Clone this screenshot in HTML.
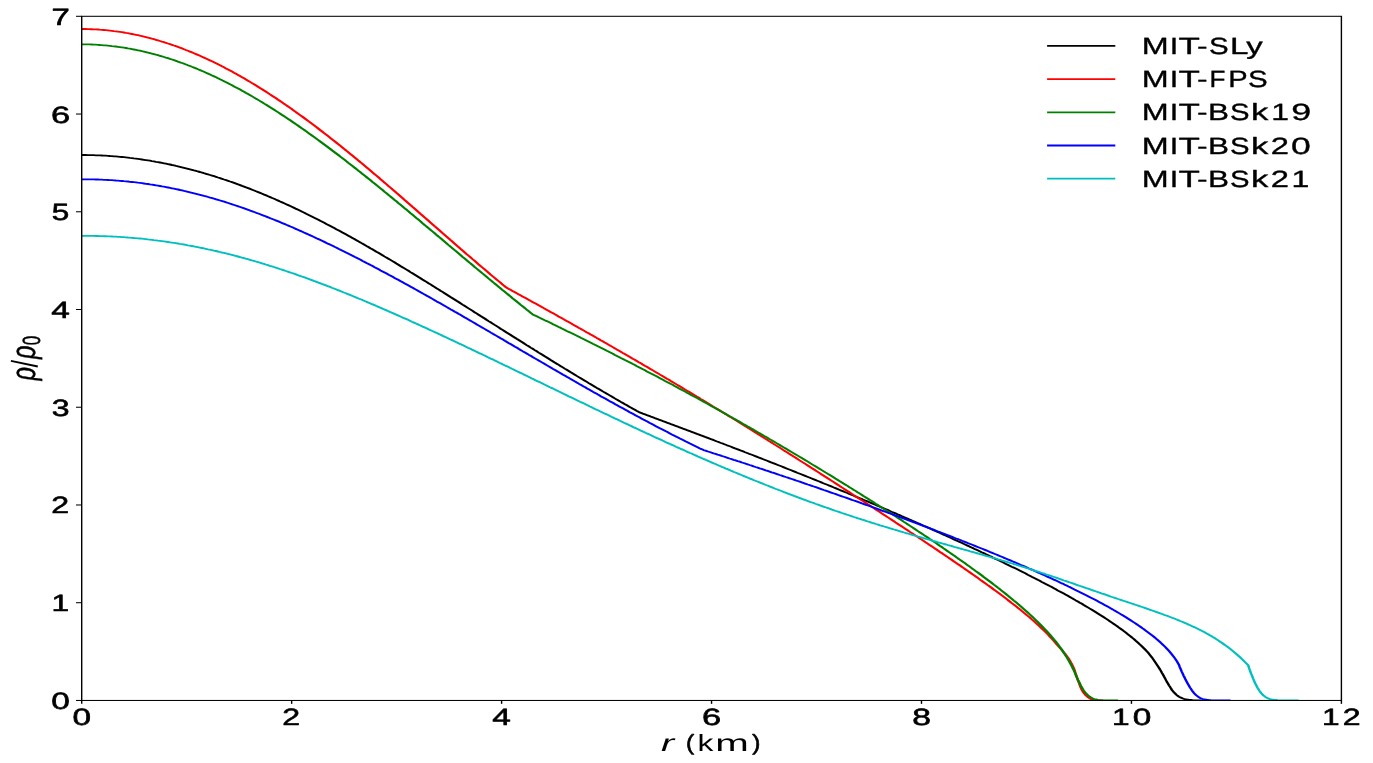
<!DOCTYPE html>
<html><head><meta charset="utf-8"><title>density profile</title>
<style>html,body{margin:0;padding:0;background:#fff;}svg{display:block;will-change:transform;}text{font-family:"Liberation Sans",sans-serif;fill:#000;text-rendering:geometricPrecision;}</style></head><body>
<svg width="1373" height="763" viewBox="0 0 1373 763">
<rect width="1373" height="763" fill="#fff"/>
<defs><clipPath id="ax"><rect x="60.52" y="16.30" width="933.11" height="684.75"/></clipPath></defs>
<g transform="scale(1.350,1)" fill="none">
<g clip-path="url(#ax)" stroke-width="1.85" stroke-linejoin="round" stroke-linecap="butt">
<polyline stroke="#000000" points="60.6,155.0 62.1,155.0 63.6,155.0 65.0,155.1 66.5,155.1 68.0,155.1 69.5,155.2 71.0,155.3 72.5,155.3 74.0,155.4 75.4,155.5 76.9,155.6 78.4,155.7 79.9,155.8 81.4,156.0 82.9,156.1 84.3,156.3 85.8,156.4 87.3,156.6 88.8,156.8 90.3,157.0 91.8,157.2 93.2,157.4 94.7,157.6 96.2,157.9 97.7,158.1 99.2,158.4 100.7,158.6 102.2,158.9 103.6,159.2 105.1,159.5 106.6,159.8 108.1,160.1 109.6,160.4 111.1,160.7 112.5,161.1 114.0,161.4 115.5,161.8 117.0,162.1 118.5,162.5 120.0,162.9 121.5,163.3 122.9,163.7 124.4,164.1 125.9,164.5 127.4,165.0 128.9,165.4 130.4,165.9 131.8,166.3 133.3,166.8 134.8,167.3 136.3,167.8 137.8,168.3 139.3,168.8 140.8,169.3 142.2,169.8 143.7,170.4 145.2,170.9 146.7,171.5 148.2,172.0 149.7,172.6 151.1,173.2 152.6,173.8 154.1,174.4 155.6,175.0 157.1,175.6 158.6,176.2 160.0,176.8 161.5,177.5 163.0,178.1 164.5,178.8 166.0,179.5 167.5,180.1 169.0,180.8 170.4,181.5 171.9,182.2 173.4,182.9 174.9,183.6 176.4,184.4 177.9,185.1 179.3,185.9 180.8,186.6 182.3,187.4 183.8,188.1 185.3,188.9 186.8,189.7 188.3,190.5 189.7,191.3 191.2,192.1 192.7,192.9 194.2,193.7 195.7,194.6 197.2,195.4 198.6,196.3 200.1,197.1 201.6,198.0 203.1,198.8 204.6,199.7 206.1,200.6 207.5,201.5 209.0,202.4 210.5,203.3 212.0,204.2 213.5,205.1 215.0,206.0 216.5,207.0 217.9,207.9 219.4,208.9 220.9,209.8 222.4,210.8 223.9,211.8 225.4,212.7 226.8,213.7 228.3,214.7 229.8,215.7 231.3,216.7 232.8,217.7 234.3,218.7 235.8,219.7 237.2,220.8 238.7,221.8 240.2,222.8 241.7,223.9 243.2,224.9 244.7,226.0 246.1,227.0 247.6,228.1 249.1,229.2 250.6,230.2 252.1,231.3 253.6,232.4 255.1,233.5 256.5,234.6 258.0,235.7 259.5,236.8 261.0,237.9 262.5,239.0 264.0,240.2 265.4,241.3 266.9,242.4 268.4,243.6 269.9,244.7 271.4,245.9 272.9,247.0 274.3,248.2 275.8,249.3 277.3,250.5 278.8,251.7 280.3,252.8 281.8,254.0 283.3,255.2 284.7,256.4 286.2,257.6 287.7,258.7 289.2,259.9 290.7,261.1 292.2,262.3 293.6,263.5 295.1,264.7 296.6,266.0 298.1,267.2 299.6,268.4 301.1,269.6 302.6,270.8 304.0,272.1 305.5,273.3 307.0,274.5 308.5,275.7 310.0,277.0 311.5,278.2 312.9,279.5 314.4,280.7 315.9,281.9 317.4,283.2 318.9,284.4 320.4,285.7 321.8,286.9 323.3,288.2 324.8,289.4 326.3,290.7 327.8,291.9 329.3,293.2 330.8,294.5 332.2,295.7 333.7,297.0 335.2,298.2 336.7,299.5 338.2,300.8 339.7,302.0 341.1,303.3 342.6,304.6 344.1,305.8 345.6,307.1 347.1,308.4 348.6,309.6 350.1,310.9 351.5,312.2 353.0,313.4 354.5,314.7 356.0,316.0 357.5,317.2 359.0,318.5 360.4,319.8 361.9,321.1 363.4,322.3 364.9,323.6 366.4,324.9 367.9,326.1 369.4,327.4 370.8,328.7 372.3,329.9 373.8,331.2 375.3,332.5 376.8,333.7 378.3,335.0 379.7,336.2 381.2,337.5 382.7,338.8 384.2,340.0 385.7,341.3 387.2,342.5 388.6,343.8 390.1,345.1 391.6,346.3 393.1,347.6 394.6,348.8 396.1,350.1 397.6,351.3 399.0,352.6 400.5,353.8 402.0,355.0 403.5,356.3 405.0,357.5 406.5,358.8 407.9,360.0 409.4,361.2 410.9,362.5 412.4,363.7 413.9,364.9 415.4,366.2 416.9,367.4 418.3,368.6 419.8,369.8 421.3,371.0 422.8,372.3 424.3,373.5 425.8,374.7 427.2,375.9 428.7,377.1 430.2,378.3 431.7,379.5 433.2,380.7 434.7,381.9 436.1,383.1 437.6,384.3 439.1,385.5 440.6,386.7 442.1,387.9 443.6,389.0 445.1,390.2 446.5,391.4 448.0,392.6 449.5,393.7 451.0,394.9 452.5,396.1 454.0,397.2 455.4,398.4 456.9,399.6 458.4,400.7 459.9,401.9 461.4,403.0 462.9,404.2 464.4,405.3 465.8,406.4 467.3,407.6 468.8,408.7 470.3,409.8 471.8,411.0 473.3,412.1 474.7,412.8 476.2,413.6 477.7,414.3 479.2,415.1 480.7,415.8 482.2,416.6 483.7,417.3 485.1,418.1 486.6,418.8 488.1,419.6 489.6,420.3 491.1,421.1 492.6,421.8 494.0,422.6 495.5,423.3 497.0,424.1 498.5,424.8 500.0,425.6 501.5,426.3 503.0,427.1 504.4,427.8 505.9,428.6 507.4,429.3 508.9,430.1 510.4,430.8 511.9,431.6 513.3,432.3 514.8,433.1 516.3,433.9 517.8,434.6 519.3,435.4 520.8,436.1 522.3,436.9 523.7,437.6 525.2,438.4 526.7,439.2 528.2,439.9 529.7,440.7 531.2,441.5 532.6,442.2 534.1,443.0 535.6,443.7 537.1,444.5 538.6,445.3 540.1,446.0 541.6,446.8 543.0,447.6 544.5,448.4 546.0,449.1 547.5,449.9 549.0,450.7 550.5,451.4 551.9,452.2 553.4,453.0 554.9,453.8 556.4,454.5 557.9,455.3 559.4,456.1 560.9,456.9 562.3,457.7 563.8,458.4 565.3,459.2 566.8,460.0 568.3,460.8 569.8,461.6 571.2,462.4 572.7,463.1 574.2,463.9 575.7,464.7 577.2,465.5 578.7,466.3 580.2,467.1 581.6,467.9 583.1,468.7 584.6,469.5 586.1,470.3 587.6,471.1 589.1,471.9 590.5,472.7 592.0,473.5 593.5,474.3 595.0,475.1 596.5,475.9 598.0,476.7 599.5,477.5 600.9,478.3 602.4,479.1 603.9,479.9 605.4,480.7 606.9,481.5 608.4,482.4 609.8,483.2 611.3,484.0 612.8,484.8 614.3,485.6 615.8,486.4 617.3,487.3 618.8,488.1 620.2,488.9 621.7,489.7 623.2,490.6 624.7,491.4 626.2,492.2 627.7,493.0 629.1,493.9 630.6,494.7 632.1,495.5 633.6,496.4 635.1,497.2 636.6,498.1 638.1,498.9 639.5,499.7 641.0,500.6 642.5,501.4 644.0,502.3 645.5,503.1 647.0,504.0 648.4,504.8 649.9,505.7 651.4,506.5 652.9,507.4 654.4,508.2 655.9,509.1 657.4,509.9 658.8,510.8 660.3,511.7 661.8,512.5 663.3,513.4 664.8,514.3 666.3,515.1 667.7,516.0 669.2,516.9 670.7,517.7 672.2,518.6 673.7,519.5 675.2,520.4 676.7,521.2 678.1,522.1 679.6,523.0 681.1,523.9 682.6,524.8 684.1,525.7 685.6,526.5 687.0,527.4 688.5,528.3 690.0,529.2 691.5,530.1 693.0,531.0 694.5,531.9 696.0,532.8 697.4,533.7 698.9,534.6 700.4,535.5 701.9,536.4 703.4,537.3 704.9,538.3 706.3,539.2 707.8,540.1 709.3,541.0 710.8,541.9 712.3,542.8 713.8,543.8 715.3,544.7 716.7,545.6 718.2,546.6 719.7,547.5 721.2,548.4 722.7,549.4 724.2,550.3 725.6,551.2 727.1,552.2 728.6,553.1 730.1,554.1 731.6,555.0 733.1,556.0 734.6,556.9 736.0,557.9 737.5,558.9 739.0,559.8 740.5,560.8 742.0,561.8 743.5,562.7 744.9,563.7 746.4,564.7 747.9,565.7 749.4,566.7 750.9,567.6 752.4,568.6 753.9,569.6 755.3,570.6 756.8,571.6 758.3,572.6 759.8,573.6 761.3,574.7 762.8,575.7 764.2,576.7 765.7,577.7 767.2,578.7 768.7,579.8 770.2,580.8 771.7,581.9 773.2,582.9 774.6,583.9 776.1,585.0 777.6,586.1 779.1,587.1 780.6,588.2 782.1,589.3 783.5,590.4 785.0,591.4 786.5,592.5 788.0,593.6 789.5,594.7 791.0,595.8 792.5,597.0 793.9,598.1 795.4,599.2 796.9,600.4 798.4,601.5 799.9,602.7 801.4,603.8 802.8,605.0 804.3,606.2 805.8,607.4 807.3,608.6 808.8,609.8 810.3,611.0 811.8,612.3 813.2,613.5 814.7,614.8 816.2,616.0 817.7,617.3 819.2,618.6 820.7,619.9 822.1,621.3 823.6,622.6 825.1,624.0 826.6,625.4 828.1,626.8 829.6,628.3 831.1,629.7 832.5,631.2 834.0,632.7 835.5,634.3 837.0,635.9 838.5,637.5 840.0,639.2 841.4,640.9 842.9,642.6 844.4,644.5 845.9,646.4 847.4,648.4 848.9,650.4 850.4,652.6 851.8,654.9 853.3,657.4 854.8,660.3 856.3,663.3 857.8,666.3 859.3,669.5 860.0,671.1 860.7,672.8 861.5,674.6 862.2,676.4 863.0,678.3 863.7,680.2 864.4,682.0 865.2,683.6 865.9,685.3 866.7,686.9 867.4,688.5 868.1,690.0 868.9,691.3 869.6,692.4 870.4,693.4 871.1,694.4 871.9,695.3 872.6,696.0 873.3,696.7 874.1,697.2 874.8,697.7 875.6,698.1 876.3,698.5 877.0,698.8 877.8,699.1 878.5,699.3 879.3,699.5 880.0,699.6 880.7,699.8 881.5,699.9 882.2,700.0 883.0,700.1 883.7,700.3 884.4,700.4 885.2,700.4 885.9,700.5 886.7,700.5 887.4,700.5 888.1,700.5 888.9,700.5 889.6,700.5"/>
<polyline stroke="#ff0000" points="60.6,29.0 62.1,29.0 63.6,29.0 65.0,29.1 66.5,29.2 68.0,29.2 69.5,29.3 71.0,29.4 72.5,29.5 73.9,29.7 75.4,29.8 76.9,30.0 78.4,30.2 79.9,30.4 81.4,30.6 82.8,30.8 84.3,31.1 85.8,31.3 87.3,31.6 88.8,31.9 90.3,32.2 91.7,32.5 93.2,32.9 94.7,33.2 96.2,33.6 97.7,34.0 99.2,34.4 100.6,34.8 102.1,35.2 103.6,35.7 105.1,36.1 106.6,36.6 108.1,37.1 109.6,37.6 111.0,38.1 112.5,38.7 114.0,39.2 115.5,39.8 117.0,40.4 118.5,41.0 119.9,41.6 121.4,42.2 122.9,42.8 124.4,43.5 125.9,44.1 127.4,44.8 128.8,45.5 130.3,46.2 131.8,46.9 133.3,47.7 134.8,48.4 136.3,49.2 137.7,50.0 139.2,50.8 140.7,51.6 142.2,52.4 143.7,53.2 145.2,54.1 146.6,54.9 148.1,55.8 149.6,56.7 151.1,57.6 152.6,58.5 154.1,59.5 155.5,60.4 157.0,61.3 158.5,62.3 160.0,63.3 161.5,64.3 163.0,65.3 164.4,66.3 165.9,67.3 167.4,68.4 168.9,69.4 170.4,70.5 171.9,71.6 173.3,72.7 174.8,73.8 176.3,74.9 177.8,76.0 179.3,77.2 180.8,78.3 182.2,79.5 183.7,80.7 185.2,81.9 186.7,83.1 188.2,84.3 189.7,85.5 191.1,86.7 192.6,88.0 194.1,89.2 195.6,90.5 197.1,91.8 198.6,93.1 200.0,94.4 201.5,95.7 203.0,97.0 204.5,98.3 206.0,99.7 207.5,101.0 209.0,102.4 210.4,103.8 211.9,105.1 213.4,106.5 214.9,107.9 216.4,109.3 217.9,110.8 219.3,112.2 220.8,113.6 222.3,115.1 223.8,116.5 225.3,118.0 226.8,119.5 228.2,120.9 229.7,122.4 231.2,123.9 232.7,125.4 234.2,126.9 235.7,128.5 237.1,130.0 238.6,131.5 240.1,133.1 241.6,134.6 243.1,136.2 244.6,137.8 246.0,139.3 247.5,140.9 249.0,142.5 250.5,144.1 252.0,145.7 253.5,147.3 254.9,148.9 256.4,150.5 257.9,152.2 259.4,153.8 260.9,155.4 262.4,157.1 263.8,158.7 265.3,160.4 266.8,162.0 268.3,163.7 269.8,165.4 271.3,167.1 272.7,168.7 274.2,170.4 275.7,172.1 277.2,173.8 278.7,175.5 280.2,177.2 281.6,178.9 283.1,180.6 284.6,182.3 286.1,184.0 287.6,185.8 289.1,187.5 290.5,189.2 292.0,190.9 293.5,192.7 295.0,194.4 296.5,196.1 298.0,197.9 299.4,199.6 300.9,201.3 302.4,203.1 303.9,204.8 305.4,206.6 306.9,208.3 308.4,210.1 309.8,211.8 311.3,213.6 312.8,215.3 314.3,217.1 315.8,218.8 317.3,220.6 318.7,222.4 320.2,224.1 321.7,225.9 323.2,227.6 324.7,229.4 326.2,231.1 327.6,232.9 329.1,234.6 330.6,236.4 332.1,238.1 333.6,239.9 335.1,241.6 336.5,243.4 338.0,245.1 339.5,246.8 341.0,248.6 342.5,250.3 344.0,252.1 345.4,253.8 346.9,255.5 348.4,257.2 349.9,259.0 351.4,260.7 352.9,262.4 354.3,264.1 355.8,265.8 357.3,267.5 358.8,269.2 360.3,270.9 361.8,272.6 363.2,274.3 364.7,276.0 366.2,277.7 367.7,279.3 369.2,281.0 370.7,282.7 372.1,284.3 373.6,286.0 375.1,287.6 376.6,288.7 378.1,289.8 379.6,290.9 381.1,292.0 382.5,293.1 384.0,294.2 385.5,295.3 387.0,296.4 388.5,297.5 390.0,298.6 391.5,299.7 392.9,300.8 394.4,301.9 395.9,303.0 397.4,304.1 398.9,305.2 400.4,306.3 401.9,307.4 403.3,308.6 404.8,309.7 406.3,310.8 407.8,311.9 409.3,313.0 410.8,314.1 412.3,315.3 413.7,316.4 415.2,317.5 416.7,318.6 418.2,319.8 419.7,320.9 421.2,322.0 422.7,323.1 424.1,324.3 425.6,325.4 427.1,326.5 428.6,327.7 430.1,328.8 431.6,329.9 433.1,331.1 434.5,332.2 436.0,333.3 437.5,334.5 439.0,335.6 440.5,336.7 442.0,337.9 443.5,339.0 444.9,340.2 446.4,341.3 447.9,342.5 449.4,343.6 450.9,344.8 452.4,345.9 453.9,347.1 455.3,348.2 456.8,349.4 458.3,350.5 459.8,351.7 461.3,352.9 462.8,354.0 464.3,355.2 465.7,356.3 467.2,357.5 468.7,358.7 470.2,359.8 471.7,361.0 473.2,362.2 474.7,363.3 476.1,364.5 477.6,365.7 479.1,366.8 480.6,368.0 482.1,369.2 483.6,370.4 485.1,371.6 486.5,372.7 488.0,373.9 489.5,375.1 491.0,376.3 492.5,377.5 494.0,378.7 495.5,379.8 496.9,381.0 498.4,382.2 499.9,383.4 501.4,384.6 502.9,385.8 504.4,387.0 505.9,388.2 507.3,389.4 508.8,390.6 510.3,391.8 511.8,393.0 513.3,394.2 514.8,395.4 516.3,396.6 517.7,397.8 519.2,399.1 520.7,400.3 522.2,401.5 523.7,402.7 525.2,403.9 526.7,405.1 528.1,406.4 529.6,407.6 531.1,408.8 532.6,410.0 534.1,411.3 535.6,412.5 537.1,413.7 538.5,414.9 540.0,416.2 541.5,417.4 543.0,418.6 544.5,419.9 546.0,421.1 547.5,422.3 548.9,423.6 550.4,424.8 551.9,426.1 553.4,427.3 554.9,428.6 556.4,429.8 557.9,431.0 559.3,432.3 560.8,433.5 562.3,434.8 563.8,436.0 565.3,437.3 566.8,438.6 568.3,439.8 569.7,441.1 571.2,442.3 572.7,443.6 574.2,444.9 575.7,446.1 577.2,447.4 578.7,448.6 580.1,449.9 581.6,451.2 583.1,452.4 584.6,453.7 586.1,455.0 587.6,456.3 589.1,457.5 590.5,458.8 592.0,460.1 593.5,461.4 595.0,462.6 596.5,463.9 598.0,465.2 599.5,466.5 600.9,467.7 602.4,469.0 603.9,470.3 605.4,471.6 606.9,472.9 608.4,474.2 609.9,475.5 611.3,476.7 612.8,478.0 614.3,479.3 615.8,480.6 617.3,481.9 618.8,483.2 620.3,484.5 621.7,485.8 623.2,487.1 624.7,488.4 626.2,489.7 627.7,491.0 629.2,492.3 630.7,493.6 632.1,494.9 633.6,496.2 635.1,497.5 636.6,498.8 638.1,500.1 639.6,501.4 641.1,502.7 642.5,504.0 644.0,505.3 645.5,506.6 647.0,507.9 648.5,509.2 650.0,510.5 651.5,511.8 652.9,513.1 654.4,514.5 655.9,515.8 657.4,517.1 658.9,518.4 660.4,519.7 661.9,521.0 663.3,522.4 664.8,523.7 666.3,525.0 667.8,526.3 669.3,527.6 670.8,529.0 672.3,530.3 673.7,531.6 675.2,532.9 676.7,534.3 678.2,535.6 679.7,536.9 681.2,538.3 682.7,539.6 684.1,540.9 685.6,542.3 687.1,543.6 688.6,545.0 690.1,546.3 691.6,547.6 693.1,549.0 694.5,550.3 696.0,551.7 697.5,553.0 699.0,554.4 700.5,555.8 702.0,557.1 703.5,558.5 704.9,559.8 706.4,561.2 707.9,562.6 709.4,564.0 710.9,565.3 712.4,566.7 713.9,568.1 715.3,569.5 716.8,570.9 718.3,572.3 719.8,573.7 721.3,575.1 722.8,576.5 724.3,577.9 725.7,579.3 727.2,580.8 728.7,582.2 730.2,583.6 731.7,585.1 733.2,586.5 734.7,588.0 736.1,589.5 737.6,590.9 739.1,592.4 740.6,593.9 742.1,595.4 743.6,596.9 745.1,598.4 746.5,600.0 748.0,601.5 749.5,603.1 751.0,604.6 752.5,606.2 754.0,607.8 755.5,609.4 756.9,611.0 758.4,612.7 759.9,614.3 761.4,616.0 762.9,617.7 764.4,619.5 765.9,621.2 767.3,623.0 768.8,624.8 770.3,626.7 771.8,628.6 773.3,630.5 774.8,632.5 776.3,634.5 777.7,636.7 779.2,638.8 780.7,641.1 782.2,643.4 783.7,645.7 785.2,647.9 786.7,650.2 788.1,652.5 788.9,653.7 789.6,655.0 790.4,656.4 791.1,657.8 791.9,659.3 792.6,660.9 793.3,662.7 794.1,664.5 794.8,666.5 795.6,668.8 796.3,671.6 797.0,674.6 797.8,677.7 798.5,680.5 799.3,683.1 800.0,685.7 800.7,688.1 801.5,690.2 802.2,691.8 803.0,693.2 803.7,694.4 804.4,695.5 805.2,696.4 805.9,697.2 806.7,697.9 807.4,698.6 808.1,699.1 808.9,699.5 809.6,699.7 810.4,699.9 811.1,700.1 811.9,700.2 812.6,700.3 813.3,700.3 814.1,700.4 814.8,700.4 815.6,700.4 816.3,700.4 817.0,700.5"/>
<polyline stroke="#008000" points="60.6,44.3 62.1,44.3 63.6,44.3 65.0,44.4 66.5,44.4 68.0,44.5 69.5,44.6 71.0,44.7 72.5,44.8 74.0,45.0 75.4,45.1 76.9,45.3 78.4,45.4 79.9,45.6 81.4,45.8 82.9,46.1 84.3,46.3 85.8,46.5 87.3,46.8 88.8,47.1 90.3,47.4 91.8,47.7 93.3,48.0 94.7,48.4 96.2,48.7 97.7,49.1 99.2,49.5 100.7,49.9 102.2,50.3 103.6,50.7 105.1,51.2 106.6,51.6 108.1,52.1 109.6,52.6 111.1,53.1 112.5,53.6 114.0,54.1 115.5,54.7 117.0,55.2 118.5,55.8 120.0,56.4 121.5,57.0 122.9,57.6 124.4,58.2 125.9,58.9 127.4,59.5 128.9,60.2 130.4,60.9 131.8,61.6 133.3,62.3 134.8,63.0 136.3,63.7 137.8,64.5 139.3,65.3 140.8,66.0 142.2,66.8 143.7,67.6 145.2,68.4 146.7,69.3 148.2,70.1 149.7,71.0 151.1,71.8 152.6,72.7 154.1,73.6 155.6,74.5 157.1,75.5 158.6,76.4 160.1,77.3 161.5,78.3 163.0,79.3 164.5,80.2 166.0,81.2 167.5,82.2 169.0,83.3 170.4,84.3 171.9,85.3 173.4,86.4 174.9,87.5 176.4,88.5 177.9,89.6 179.3,90.7 180.8,91.8 182.3,93.0 183.8,94.1 185.3,95.2 186.8,96.4 188.3,97.6 189.7,98.7 191.2,99.9 192.7,101.1 194.2,102.3 195.7,103.6 197.2,104.8 198.6,106.0 200.1,107.3 201.6,108.5 203.1,109.8 204.6,111.1 206.1,112.4 207.6,113.7 209.0,115.0 210.5,116.3 212.0,117.6 213.5,119.0 215.0,120.3 216.5,121.7 217.9,123.0 219.4,124.4 220.9,125.8 222.4,127.2 223.9,128.6 225.4,130.0 226.9,131.4 228.3,132.8 229.8,134.3 231.3,135.7 232.8,137.1 234.3,138.6 235.8,140.1 237.2,141.5 238.7,143.0 240.2,144.5 241.7,146.0 243.2,147.5 244.7,149.0 246.1,150.5 247.6,152.0 249.1,153.5 250.6,155.0 252.1,156.6 253.6,158.1 255.1,159.6 256.5,161.2 258.0,162.8 259.5,164.3 261.0,165.9 262.5,167.5 264.0,169.0 265.4,170.6 266.9,172.2 268.4,173.8 269.9,175.4 271.4,177.0 272.9,178.6 274.4,180.2 275.8,181.8 277.3,183.4 278.8,185.0 280.3,186.7 281.8,188.3 283.3,189.9 284.7,191.6 286.2,193.2 287.7,194.8 289.2,196.5 290.7,198.1 292.2,199.8 293.7,201.4 295.1,203.1 296.6,204.7 298.1,206.4 299.6,208.1 301.1,209.7 302.6,211.4 304.0,213.1 305.5,214.7 307.0,216.4 308.5,218.1 310.0,219.7 311.5,221.4 312.9,223.1 314.4,224.8 315.9,226.5 317.4,228.1 318.9,229.8 320.4,231.5 321.9,233.2 323.3,234.9 324.8,236.5 326.3,238.2 327.8,239.9 329.3,241.6 330.8,243.3 332.2,245.0 333.7,246.7 335.2,248.3 336.7,250.0 338.2,251.7 339.7,253.4 341.2,255.1 342.6,256.8 344.1,258.4 345.6,260.1 347.1,261.8 348.6,263.5 350.1,265.1 351.5,266.8 353.0,268.5 354.5,270.2 356.0,271.8 357.5,273.5 359.0,275.2 360.5,276.8 361.9,278.5 363.4,280.2 364.9,281.8 366.4,283.5 367.9,285.1 369.4,286.8 370.8,288.4 372.3,290.1 373.8,291.7 375.3,293.4 376.8,295.0 378.3,296.6 379.7,298.3 381.2,299.9 382.7,301.5 384.2,303.1 385.7,304.8 387.2,306.4 388.7,308.0 390.1,309.6 391.6,311.2 393.1,312.8 394.6,314.4 396.1,315.4 397.6,316.3 399.0,317.3 400.5,318.2 402.0,319.2 403.5,320.2 405.0,321.1 406.5,322.1 408.0,323.1 409.4,324.1 410.9,325.0 412.4,326.0 413.9,327.0 415.4,327.9 416.9,328.9 418.4,329.9 419.8,330.9 421.3,331.9 422.8,332.8 424.3,333.8 425.8,334.8 427.3,335.8 428.8,336.8 430.2,337.8 431.7,338.8 433.2,339.8 434.7,340.8 436.2,341.8 437.7,342.8 439.1,343.8 440.6,344.8 442.1,345.8 443.6,346.8 445.1,347.8 446.6,348.8 448.1,349.8 449.5,350.8 451.0,351.8 452.5,352.8 454.0,353.8 455.5,354.9 457.0,355.9 458.5,356.9 459.9,357.9 461.4,358.9 462.9,360.0 464.4,361.0 465.9,362.0 467.4,363.1 468.8,364.1 470.3,365.1 471.8,366.2 473.3,367.2 474.8,368.2 476.3,369.3 477.8,370.3 479.2,371.4 480.7,372.4 482.2,373.5 483.7,374.5 485.2,375.6 486.7,376.6 488.2,377.7 489.6,378.7 491.1,379.8 492.6,380.9 494.1,381.9 495.6,383.0 497.1,384.1 498.6,385.1 500.0,386.2 501.5,387.3 503.0,388.4 504.5,389.4 506.0,390.5 507.5,391.6 508.9,392.7 510.4,393.8 511.9,394.9 513.4,396.0 514.9,397.0 516.4,398.1 517.9,399.2 519.3,400.3 520.8,401.4 522.3,402.5 523.8,403.6 525.3,404.8 526.8,405.9 528.3,407.0 529.7,408.1 531.2,409.2 532.7,410.3 534.2,411.4 535.7,412.6 537.2,413.7 538.6,414.8 540.1,415.9 541.6,417.1 543.1,418.2 544.6,419.3 546.1,420.5 547.6,421.6 549.0,422.7 550.5,423.9 552.0,425.0 553.5,426.2 555.0,427.3 556.5,428.5 558.0,429.6 559.4,430.8 560.9,431.9 562.4,433.1 563.9,434.2 565.4,435.4 566.9,436.6 568.4,437.7 569.8,438.9 571.3,440.1 572.8,441.2 574.3,442.4 575.8,443.6 577.3,444.8 578.7,445.9 580.2,447.1 581.7,448.3 583.2,449.5 584.7,450.7 586.2,451.9 587.7,453.1 589.1,454.2 590.6,455.4 592.1,456.6 593.6,457.8 595.1,459.0 596.6,460.2 598.1,461.4 599.5,462.6 601.0,463.9 602.5,465.1 604.0,466.3 605.5,467.5 607.0,468.7 608.4,469.9 609.9,471.1 611.4,472.4 612.9,473.6 614.4,474.8 615.9,476.0 617.4,477.3 618.8,478.5 620.3,479.7 621.8,481.0 623.3,482.2 624.8,483.5 626.3,484.7 627.8,485.9 629.2,487.2 630.7,488.4 632.2,489.7 633.7,490.9 635.2,492.2 636.7,493.4 638.2,494.7 639.6,496.0 641.1,497.2 642.6,498.5 644.1,499.8 645.6,501.0 647.1,502.3 648.5,503.6 650.0,504.8 651.5,506.1 653.0,507.4 654.5,508.7 656.0,510.0 657.5,511.2 658.9,512.5 660.4,513.8 661.9,515.1 663.4,516.4 664.9,517.7 666.4,519.0 667.9,520.3 669.3,521.6 670.8,522.9 672.3,524.3 673.8,525.6 675.3,526.9 676.8,528.2 678.2,529.5 679.7,530.9 681.2,532.2 682.7,533.5 684.2,534.9 685.7,536.2 687.2,537.5 688.6,538.9 690.1,540.2 691.6,541.6 693.1,542.9 694.6,544.3 696.1,545.7 697.6,547.0 699.0,548.4 700.5,549.8 702.0,551.2 703.5,552.6 705.0,554.0 706.5,555.4 708.0,556.8 709.4,558.2 710.9,559.6 712.4,561.0 713.9,562.4 715.4,563.8 716.9,565.3 718.3,566.7 719.8,568.2 721.3,569.6 722.8,571.1 724.3,572.5 725.8,574.0 727.3,575.5 728.7,577.0 730.2,578.5 731.7,580.0 733.2,581.5 734.7,583.0 736.2,584.6 737.7,586.1 739.1,587.7 740.6,589.2 742.1,590.8 743.6,592.4 745.1,594.0 746.6,595.6 748.1,597.3 749.5,598.9 751.0,600.6 752.5,602.2 754.0,603.9 755.5,605.7 757.0,607.4 758.4,609.1 759.9,610.9 761.4,612.7 762.9,614.5 764.4,616.4 765.9,618.3 767.4,620.2 768.8,622.1 770.3,624.1 771.8,626.1 773.3,628.2 774.8,630.3 776.3,632.5 777.8,634.7 779.2,637.0 780.7,639.4 782.2,641.8 783.7,644.4 785.2,647.2 786.7,650.0 788.1,653.0 788.9,654.6 789.6,656.1 790.4,657.7 791.1,659.4 791.9,661.1 792.6,662.9 793.3,664.7 794.1,666.6 794.8,668.6 795.6,670.8 796.3,673.1 797.0,675.4 797.8,677.7 798.5,679.9 799.3,681.9 800.0,683.9 800.7,685.9 801.5,687.7 802.2,689.4 803.0,690.9 803.7,692.1 804.4,693.3 805.2,694.3 805.9,695.3 806.7,696.1 807.4,696.8 808.1,697.4 808.9,698.0 809.6,698.5 810.4,699.0 811.1,699.3 811.9,699.5 812.6,699.7 813.3,699.9 814.1,700.1 814.8,700.2 815.6,700.3 816.3,700.3 817.0,700.3 817.8,700.3 818.5,700.4 819.3,700.4 820.0,700.4 820.7,700.4 821.5,700.4 822.2,700.4 823.0,700.4 823.7,700.4 824.4,700.4 825.2,700.4 825.9,700.4 826.7,700.4 827.4,700.4 828.1,700.4"/>
<polyline stroke="#0000ff" points="60.6,179.3 62.1,179.3 63.6,179.3 65.0,179.3 66.5,179.3 68.0,179.4 69.5,179.4 71.0,179.5 72.5,179.5 74.0,179.6 75.4,179.7 76.9,179.8 78.4,179.9 79.9,180.0 81.4,180.1 82.9,180.2 84.4,180.3 85.8,180.5 87.3,180.6 88.8,180.8 90.3,181.0 91.8,181.2 93.3,181.3 94.8,181.5 96.2,181.8 97.7,182.0 99.2,182.2 100.7,182.4 102.2,182.7 103.7,182.9 105.2,183.2 106.6,183.5 108.1,183.8 109.6,184.0 111.1,184.4 112.6,184.7 114.1,185.0 115.6,185.3 117.0,185.6 118.5,186.0 120.0,186.4 121.5,186.7 123.0,187.1 124.5,187.5 126.0,187.9 127.4,188.3 128.9,188.7 130.4,189.1 131.9,189.5 133.4,190.0 134.9,190.4 136.4,190.9 137.8,191.3 139.3,191.8 140.8,192.3 142.3,192.8 143.8,193.3 145.3,193.8 146.8,194.3 148.2,194.8 149.7,195.3 151.2,195.9 152.7,196.4 154.2,197.0 155.7,197.6 157.2,198.1 158.6,198.7 160.1,199.3 161.6,199.9 163.1,200.5 164.6,201.1 166.1,201.7 167.6,202.4 169.0,203.0 170.5,203.7 172.0,204.3 173.5,205.0 175.0,205.7 176.5,206.3 178.0,207.0 179.4,207.7 180.9,208.4 182.4,209.1 183.9,209.8 185.4,210.6 186.9,211.3 188.3,212.0 189.8,212.8 191.3,213.5 192.8,214.3 194.3,215.1 195.8,215.8 197.3,216.6 198.7,217.4 200.2,218.2 201.7,219.0 203.2,219.8 204.7,220.6 206.2,221.4 207.7,222.3 209.1,223.1 210.6,223.9 212.1,224.8 213.6,225.6 215.1,226.5 216.6,227.3 218.1,228.2 219.5,229.1 221.0,230.0 222.5,230.9 224.0,231.8 225.5,232.7 227.0,233.6 228.5,234.5 229.9,235.4 231.4,236.3 232.9,237.2 234.4,238.2 235.9,239.1 237.4,240.0 238.9,241.0 240.3,241.9 241.8,242.9 243.3,243.9 244.8,244.8 246.3,245.8 247.8,246.8 249.3,247.7 250.7,248.7 252.2,249.7 253.7,250.7 255.2,251.7 256.7,252.7 258.2,253.7 259.7,254.7 261.1,255.7 262.6,256.8 264.1,257.8 265.6,258.8 267.1,259.8 268.6,260.9 270.1,261.9 271.5,263.0 273.0,264.0 274.5,265.1 276.0,266.1 277.5,267.2 279.0,268.2 280.5,269.3 281.9,270.4 283.4,271.4 284.9,272.5 286.4,273.6 287.9,274.7 289.4,275.7 290.9,276.8 292.3,277.9 293.8,279.0 295.3,280.1 296.8,281.2 298.3,282.3 299.8,283.4 301.3,284.5 302.7,285.6 304.2,286.7 305.7,287.8 307.2,288.9 308.7,290.1 310.2,291.2 311.6,292.3 313.1,293.4 314.6,294.6 316.1,295.7 317.6,296.8 319.1,297.9 320.6,299.1 322.0,300.2 323.5,301.4 325.0,302.5 326.5,303.6 328.0,304.8 329.5,305.9 331.0,307.1 332.4,308.2 333.9,309.4 335.4,310.5 336.9,311.7 338.4,312.8 339.9,314.0 341.4,315.1 342.8,316.3 344.3,317.5 345.8,318.6 347.3,319.8 348.8,320.9 350.3,322.1 351.8,323.3 353.2,324.4 354.7,325.6 356.2,326.8 357.7,327.9 359.2,329.1 360.7,330.3 362.2,331.4 363.6,332.6 365.1,333.8 366.6,334.9 368.1,336.1 369.6,337.3 371.1,338.5 372.6,339.6 374.0,340.8 375.5,342.0 377.0,343.2 378.5,344.3 380.0,345.5 381.5,346.7 383.0,347.8 384.4,349.0 385.9,350.2 387.4,351.4 388.9,352.5 390.4,353.7 391.9,354.9 393.4,356.0 394.8,357.2 396.3,358.4 397.8,359.6 399.3,360.7 400.8,361.9 402.3,363.1 403.8,364.2 405.2,365.4 406.7,366.6 408.2,367.7 409.7,368.9 411.2,370.0 412.7,371.2 414.2,372.4 415.6,373.5 417.1,374.7 418.6,375.8 420.1,377.0 421.6,378.1 423.1,379.3 424.6,380.4 426.0,381.6 427.5,382.7 429.0,383.9 430.5,385.0 432.0,386.2 433.5,387.3 434.9,388.5 436.4,389.6 437.9,390.7 439.4,391.9 440.9,393.0 442.4,394.1 443.9,395.3 445.3,396.4 446.8,397.5 448.3,398.6 449.8,399.7 451.3,400.9 452.8,402.0 454.3,403.1 455.7,404.2 457.2,405.3 458.7,406.4 460.2,407.5 461.7,408.6 463.2,409.7 464.7,410.8 466.1,411.9 467.6,413.0 469.1,414.1 470.6,415.2 472.1,416.3 473.6,417.3 475.1,418.4 476.5,419.5 478.0,420.6 479.5,421.6 481.0,422.7 482.5,423.7 484.0,424.8 485.5,425.9 486.9,426.9 488.4,428.0 489.9,429.0 491.4,430.0 492.9,431.1 494.4,432.1 495.9,433.2 497.3,434.2 498.8,435.2 500.3,436.2 501.8,437.2 503.3,438.3 504.8,439.3 506.3,440.3 507.7,441.3 509.2,442.3 510.7,443.3 512.2,444.2 513.7,445.2 515.2,446.2 516.7,447.2 518.1,448.2 519.6,449.1 521.1,450.1 522.6,450.7 524.1,451.4 525.6,452.0 527.1,452.7 528.5,453.3 530.0,453.9 531.5,454.6 533.0,455.2 534.5,455.9 536.0,456.5 537.5,457.2 538.9,457.8 540.4,458.5 541.9,459.1 543.4,459.8 544.9,460.4 546.4,461.1 547.9,461.7 549.3,462.4 550.8,463.0 552.3,463.7 553.8,464.3 555.3,465.0 556.8,465.6 558.2,466.3 559.7,467.0 561.2,467.6 562.7,468.3 564.2,468.9 565.7,469.6 567.2,470.3 568.6,470.9 570.1,471.6 571.6,472.3 573.1,472.9 574.6,473.6 576.1,474.3 577.6,475.0 579.0,475.6 580.5,476.3 582.0,477.0 583.5,477.6 585.0,478.3 586.5,479.0 588.0,479.7 589.4,480.4 590.9,481.0 592.4,481.7 593.9,482.4 595.4,483.1 596.9,483.8 598.4,484.5 599.8,485.1 601.3,485.8 602.8,486.5 604.3,487.2 605.8,487.9 607.3,488.6 608.8,489.3 610.2,490.0 611.7,490.7 613.2,491.4 614.7,492.1 616.2,492.8 617.7,493.5 619.2,494.2 620.6,494.9 622.1,495.6 623.6,496.3 625.1,497.0 626.6,497.7 628.1,498.4 629.6,499.1 631.0,499.8 632.5,500.5 634.0,501.2 635.5,501.9 637.0,502.6 638.5,503.4 640.0,504.1 641.4,504.8 642.9,505.5 644.4,506.2 645.9,506.9 647.4,507.7 648.9,508.4 650.4,509.1 651.8,509.8 653.3,510.6 654.8,511.3 656.3,512.0 657.8,512.8 659.3,513.5 660.8,514.2 662.2,514.9 663.7,515.7 665.2,516.4 666.7,517.2 668.2,517.9 669.7,518.6 671.2,519.4 672.6,520.1 674.1,520.9 675.6,521.6 677.1,522.4 678.6,523.1 680.1,523.9 681.5,524.6 683.0,525.4 684.5,526.1 686.0,526.9 687.5,527.6 689.0,528.4 690.5,529.2 691.9,529.9 693.4,530.7 694.9,531.5 696.4,532.2 697.9,533.0 699.4,533.8 700.9,534.6 702.3,535.3 703.8,536.1 705.3,536.9 706.8,537.7 708.3,538.5 709.8,539.2 711.3,540.0 712.7,540.8 714.2,541.6 715.7,542.4 717.2,543.2 718.7,544.0 720.2,544.8 721.7,545.6 723.1,546.4 724.6,547.2 726.1,548.0 727.6,548.8 729.1,549.6 730.6,550.4 732.1,551.3 733.5,552.1 735.0,552.9 736.5,553.7 738.0,554.5 739.5,555.4 741.0,556.2 742.5,557.0 743.9,557.9 745.4,558.7 746.9,559.6 748.4,560.4 749.9,561.3 751.4,562.1 752.9,563.0 754.3,563.8 755.8,564.7 757.3,565.5 758.8,566.4 760.3,567.3 761.8,568.2 763.3,569.0 764.7,569.9 766.2,570.8 767.7,571.7 769.2,572.6 770.7,573.5 772.2,574.4 773.7,575.3 775.1,576.2 776.6,577.1 778.1,578.0 779.6,578.9 781.1,579.9 782.6,580.8 784.1,581.7 785.5,582.7 787.0,583.6 788.5,584.6 790.0,585.5 791.5,586.5 793.0,587.4 794.5,588.4 795.9,589.4 797.4,590.4 798.9,591.4 800.4,592.4 801.9,593.4 803.4,594.4 804.9,595.4 806.3,596.4 807.8,597.5 809.3,598.5 810.8,599.5 812.3,600.6 813.8,601.7 815.2,602.7 816.7,603.8 818.2,604.9 819.7,606.0 821.2,607.1 822.7,608.3 824.2,609.4 825.6,610.6 827.1,611.7 828.6,612.9 830.1,614.1 831.6,615.3 833.1,616.5 834.6,617.8 836.0,619.0 837.5,620.3 839.0,621.6 840.5,622.9 842.0,624.2 843.5,625.6 845.0,627.0 846.4,628.4 847.9,629.8 849.4,631.3 850.9,632.8 852.4,634.3 853.9,635.9 855.4,637.5 856.8,639.2 858.3,640.9 859.8,642.7 861.3,644.6 862.8,646.5 864.3,648.6 865.8,650.7 867.2,653.0 868.7,655.5 870.2,658.1 871.7,661.1 873.2,664.6 873.9,667.1 874.7,669.5 875.4,671.8 876.2,674.0 876.9,676.1 877.7,678.2 878.4,680.2 879.2,682.1 879.9,683.9 880.7,685.7 881.4,687.4 882.2,688.9 882.9,690.4 883.7,691.7 884.4,693.0 885.2,694.1 886.0,695.1 886.7,695.9 887.5,696.7 888.2,697.3 889.0,697.9 889.7,698.4 890.5,698.8 891.2,699.1 892.0,699.3 892.7,699.5 893.5,699.7 894.2,699.9 895.0,700.0 895.7,700.1 896.5,700.2 897.2,700.3 898.0,700.4 898.7,700.4 899.5,700.5 900.2,700.5 901.0,700.5 901.7,700.5 902.5,700.5 903.2,700.5 904.0,700.5 904.7,700.5 905.5,700.5 906.2,700.5 907.0,700.5 907.7,700.5 908.5,700.5 909.2,700.5 910.0,700.5 910.7,700.5 911.5,700.5"/>
<polyline stroke="#00bfbf" points="60.6,235.9 62.1,235.9 63.6,235.9 65.0,235.9 66.5,235.9 68.0,235.9 69.5,235.9 71.0,236.0 72.4,236.0 73.9,236.1 75.4,236.1 76.9,236.2 78.4,236.2 79.9,236.3 81.3,236.4 82.8,236.5 84.3,236.6 85.8,236.7 87.3,236.8 88.8,236.9 90.2,237.1 91.7,237.2 93.2,237.3 94.7,237.5 96.2,237.6 97.6,237.8 99.1,238.0 100.6,238.1 102.1,238.3 103.6,238.5 105.1,238.7 106.5,238.9 108.0,239.1 109.5,239.4 111.0,239.6 112.5,239.8 113.9,240.1 115.4,240.3 116.9,240.6 118.4,240.8 119.9,241.1 121.4,241.4 122.8,241.7 124.3,242.0 125.8,242.3 127.3,242.6 128.8,242.9 130.2,243.2 131.7,243.5 133.2,243.9 134.7,244.2 136.2,244.5 137.7,244.9 139.1,245.3 140.6,245.6 142.1,246.0 143.6,246.4 145.1,246.8 146.5,247.2 148.0,247.6 149.5,248.0 151.0,248.4 152.5,248.8 154.0,249.3 155.4,249.7 156.9,250.1 158.4,250.6 159.9,251.0 161.4,251.5 162.8,252.0 164.3,252.5 165.8,252.9 167.3,253.4 168.8,253.9 170.3,254.4 171.7,254.9 173.2,255.4 174.7,256.0 176.2,256.5 177.7,257.0 179.2,257.6 180.6,258.1 182.1,258.7 183.6,259.2 185.1,259.8 186.6,260.4 188.0,260.9 189.5,261.5 191.0,262.1 192.5,262.7 194.0,263.3 195.5,263.9 196.9,264.5 198.4,265.1 199.9,265.8 201.4,266.4 202.9,267.0 204.3,267.7 205.8,268.3 207.3,269.0 208.8,269.6 210.3,270.3 211.8,271.0 213.2,271.6 214.7,272.3 216.2,273.0 217.7,273.7 219.2,274.4 220.6,275.1 222.1,275.8 223.6,276.5 225.1,277.2 226.6,277.9 228.1,278.7 229.5,279.4 231.0,280.1 232.5,280.9 234.0,281.6 235.5,282.4 236.9,283.1 238.4,283.9 239.9,284.6 241.4,285.4 242.9,286.2 244.4,286.9 245.8,287.7 247.3,288.5 248.8,289.3 250.3,290.1 251.8,290.9 253.3,291.7 254.7,292.5 256.2,293.3 257.7,294.1 259.2,294.9 260.7,295.7 262.1,296.5 263.6,297.4 265.1,298.2 266.6,299.0 268.1,299.8 269.6,300.7 271.0,301.5 272.5,302.4 274.0,303.2 275.5,304.1 277.0,304.9 278.4,305.8 279.9,306.6 281.4,307.5 282.9,308.4 284.4,309.2 285.9,310.1 287.3,311.0 288.8,311.9 290.3,312.7 291.8,313.6 293.3,314.5 294.7,315.4 296.2,316.3 297.7,317.2 299.2,318.1 300.7,318.9 302.2,319.8 303.6,320.7 305.1,321.7 306.6,322.6 308.1,323.5 309.6,324.4 311.0,325.3 312.5,326.2 314.0,327.1 315.5,328.0 317.0,328.9 318.5,329.9 319.9,330.8 321.4,331.7 322.9,332.6 324.4,333.6 325.9,334.5 327.4,335.4 328.8,336.4 330.3,337.3 331.8,338.2 333.3,339.2 334.8,340.1 336.2,341.0 337.7,342.0 339.2,342.9 340.7,343.9 342.2,344.8 343.7,345.8 345.1,346.7 346.6,347.7 348.1,348.6 349.6,349.6 351.1,350.5 352.5,351.5 354.0,352.4 355.5,353.4 357.0,354.3 358.5,355.3 360.0,356.2 361.4,357.2 362.9,358.2 364.4,359.1 365.9,360.1 367.4,361.0 368.8,362.0 370.3,363.0 371.8,363.9 373.3,364.9 374.8,365.9 376.3,366.8 377.7,367.8 379.2,368.8 380.7,369.7 382.2,370.7 383.7,371.7 385.1,372.6 386.6,373.6 388.1,374.6 389.6,375.5 391.1,376.5 392.6,377.5 394.0,378.5 395.5,379.4 397.0,380.4 398.5,381.4 400.0,382.3 401.5,383.3 402.9,384.3 404.4,385.2 405.9,386.2 407.4,387.2 408.9,388.1 410.3,389.1 411.8,390.1 413.3,391.0 414.8,392.0 416.3,393.0 417.8,394.0 419.2,394.9 420.7,395.9 422.2,396.9 423.7,397.8 425.2,398.8 426.6,399.7 428.1,400.7 429.6,401.7 431.1,402.6 432.6,403.6 434.1,404.6 435.5,405.5 437.0,406.5 438.5,407.4 440.0,408.4 441.5,409.4 442.9,410.3 444.4,411.3 445.9,412.2 447.4,413.2 448.9,414.1 450.4,415.1 451.8,416.0 453.3,417.0 454.8,417.9 456.3,418.9 457.8,419.8 459.2,420.8 460.7,421.7 462.2,422.7 463.7,423.6 465.2,424.5 466.7,425.5 468.1,426.4 469.6,427.4 471.1,428.3 472.6,429.2 474.1,430.2 475.5,431.1 477.0,432.0 478.5,433.0 480.0,433.9 481.5,434.8 483.0,435.7 484.4,436.7 485.9,437.6 487.4,438.5 488.9,439.4 490.4,440.3 491.9,441.2 493.3,442.2 494.8,443.1 496.3,444.0 497.8,444.9 499.3,445.8 500.7,446.7 502.2,447.6 503.7,448.5 505.2,449.4 506.7,450.3 508.2,451.2 509.6,452.1 511.1,453.0 512.6,453.8 514.1,454.7 515.6,455.6 517.0,456.5 518.5,457.4 520.0,458.2 521.5,459.1 523.0,460.0 524.5,460.9 525.9,461.7 527.4,462.6 528.9,463.5 530.4,464.3 531.9,465.2 533.3,466.0 534.8,466.9 536.3,467.7 537.8,468.6 539.3,469.4 540.8,470.3 542.2,471.1 543.7,472.0 545.2,472.8 546.7,473.6 548.2,474.5 549.6,475.3 551.1,476.1 552.6,476.9 554.1,477.8 555.6,478.6 557.1,479.4 558.5,480.2 560.0,481.0 561.5,481.8 563.0,482.6 564.5,483.4 566.0,484.2 567.4,485.0 568.9,485.8 570.4,486.6 571.9,487.4 573.4,488.2 574.8,489.0 576.3,489.7 577.8,490.5 579.3,491.3 580.8,492.1 582.3,492.8 583.7,493.6 585.2,494.4 586.7,495.1 588.2,495.9 589.7,496.6 591.1,497.4 592.6,498.1 594.1,498.9 595.6,499.6 597.1,500.3 598.6,501.1 600.0,501.8 601.5,502.5 603.0,503.2 604.5,504.0 606.0,504.7 607.4,505.4 608.9,506.1 610.4,506.8 611.9,507.5 613.4,508.2 614.9,508.9 616.3,509.6 617.8,510.3 619.3,511.0 620.8,511.6 622.3,512.3 623.7,513.0 625.2,513.7 626.7,514.3 628.2,515.0 629.7,515.7 631.2,516.3 632.6,517.0 634.1,517.6 635.6,518.3 637.1,518.9 638.6,519.6 640.1,520.2 641.5,520.9 643.0,521.5 644.5,522.1 646.0,522.8 647.5,523.4 648.9,524.0 650.4,524.6 651.9,525.3 653.4,525.9 654.9,526.5 656.4,527.1 657.8,527.7 659.3,528.3 660.8,528.9 662.3,529.5 663.8,530.1 665.2,530.7 666.7,531.3 668.2,531.9 669.7,532.5 671.2,533.1 672.7,533.7 674.1,534.2 675.6,534.8 677.1,535.4 678.6,536.0 680.1,536.6 681.5,537.1 683.0,537.7 684.5,538.3 686.0,538.9 687.5,539.4 689.0,540.0 690.4,540.6 691.9,541.1 693.4,541.7 694.9,542.3 696.4,542.8 697.8,543.4 699.3,544.0 700.8,544.5 702.3,545.1 703.8,545.6 705.3,546.2 706.7,546.8 708.2,547.3 709.7,547.9 711.2,548.5 712.7,549.0 714.2,549.6 715.6,550.1 717.1,550.7 718.6,551.3 720.1,551.8 721.6,552.4 723.0,553.0 724.5,553.5 726.0,554.1 727.5,554.7 729.0,555.3 730.5,555.8 731.9,556.4 733.4,557.0 734.9,557.6 736.4,558.1 737.9,558.7 739.3,559.3 740.8,559.9 742.3,560.5 743.8,561.1 745.3,561.7 746.8,562.3 748.2,562.9 749.7,563.5 751.2,564.1 752.7,564.7 754.2,565.4 755.6,566.0 757.1,566.6 758.6,567.2 760.1,567.9 761.6,568.5 763.1,569.1 764.5,569.8 766.0,570.4 767.5,571.1 769.0,571.7 770.5,572.4 771.9,573.0 773.4,573.7 774.9,574.4 776.4,575.0 777.9,575.7 779.4,576.4 780.8,577.0 782.3,577.7 783.8,578.4 785.3,579.1 786.8,579.8 788.2,580.5 789.7,581.1 791.2,581.8 792.7,582.5 794.2,583.2 795.7,583.9 797.1,584.6 798.6,585.3 800.1,586.0 801.6,586.7 803.1,587.4 804.6,588.1 806.0,588.7 807.5,589.4 809.0,590.1 810.5,590.8 812.0,591.5 813.4,592.2 814.9,592.9 816.4,593.6 817.9,594.2 819.4,594.9 820.9,595.6 822.3,596.3 823.8,597.0 825.3,597.6 826.8,598.3 828.3,599.0 829.7,599.6 831.2,600.3 832.7,601.0 834.2,601.7 835.7,602.3 837.2,603.0 838.6,603.7 840.1,604.3 841.6,605.0 843.1,605.7 844.6,606.4 846.0,607.0 847.5,607.7 849.0,608.4 850.5,609.1 852.0,609.8 853.5,610.5 854.9,611.2 856.4,611.9 857.9,612.6 859.4,613.3 860.9,614.0 862.3,614.8 863.8,615.5 865.3,616.2 866.8,617.0 868.3,617.8 869.8,618.5 871.2,619.3 872.7,620.1 874.2,621.0 875.7,621.8 877.2,622.6 878.7,623.5 880.1,624.4 881.6,625.3 883.1,626.2 884.6,627.1 886.1,628.1 887.5,629.0 889.0,630.0 890.5,631.1 892.0,632.1 893.5,633.2 895.0,634.3 896.4,635.5 897.9,636.6 899.4,637.8 900.9,639.1 902.4,640.4 903.8,641.7 905.3,643.0 906.8,644.5 908.3,645.9 909.8,647.4 911.3,648.9 912.7,650.5 914.2,652.2 915.7,653.9 917.2,655.6 918.7,657.4 920.1,659.3 921.6,661.2 923.1,663.2 924.6,665.3 925.3,668.3 926.1,671.2 926.8,673.8 927.6,676.3 928.3,678.8 929.1,681.2 929.8,683.4 930.6,685.4 931.3,687.3 932.1,689.0 932.8,690.6 933.6,692.0 934.3,693.3 935.1,694.4 935.8,695.4 936.6,696.2 937.3,696.9 938.1,697.5 938.8,698.1 939.6,698.5 940.3,698.9 941.1,699.2 941.8,699.4 942.5,699.6 943.3,699.7 944.0,699.8 944.8,699.9 945.5,700.0 946.3,700.2 947.0,700.3 947.8,700.3 948.5,700.4 949.3,700.4 950.0,700.5 950.8,700.5 951.5,700.5 952.3,700.5 953.0,700.5 953.8,700.5 954.5,700.5 955.3,700.5 956.0,700.5 956.8,700.5 957.5,700.5 958.3,700.5 959.0,700.5 959.8,700.5 960.5,700.5 961.3,700.5 962.0,700.5"/>
</g>
<g stroke="#000" stroke-width="1.04">
<line x1="60.52" y1="700.45" x2="60.52" y2="703.85"/>
<line x1="216.04" y1="700.45" x2="216.04" y2="703.85"/>
<line x1="371.56" y1="700.45" x2="371.56" y2="703.85"/>
<line x1="527.07" y1="700.45" x2="527.07" y2="703.85"/>
<line x1="682.59" y1="700.45" x2="682.59" y2="703.85"/>
<line x1="838.11" y1="700.45" x2="838.11" y2="703.85"/>
<line x1="993.63" y1="700.45" x2="993.63" y2="703.85"/>
<line x1="56.30" y1="700.45" x2="60.52" y2="700.45"/>
<line x1="56.30" y1="602.71" x2="60.52" y2="602.71"/>
<line x1="56.30" y1="504.98" x2="60.52" y2="504.98"/>
<line x1="56.30" y1="407.24" x2="60.52" y2="407.24"/>
<line x1="56.30" y1="309.51" x2="60.52" y2="309.51"/>
<line x1="56.30" y1="211.77" x2="60.52" y2="211.77"/>
<line x1="56.30" y1="114.04" x2="60.52" y2="114.04"/>
<line x1="56.30" y1="16.30" x2="60.52" y2="16.30"/>
<rect x="60.52" y="16.30" width="933.11" height="684.15" stroke-linejoin="miter"/>
</g>
<g stroke-width="1.8">
<line x1="775.63" y1="45.90" x2="826.15" y2="45.90" stroke="#000000"/>
<line x1="775.63" y1="79.10" x2="826.15" y2="79.10" stroke="#ff0000"/>
<line x1="775.63" y1="112.30" x2="826.15" y2="112.30" stroke="#008000"/>
<line x1="775.63" y1="145.50" x2="826.15" y2="145.50" stroke="#0000ff"/>
<line x1="775.63" y1="178.70" x2="826.15" y2="178.70" stroke="#00bfbf"/>
</g>
</g>
<g font-size="23.50" stroke="#000" stroke-width="0.35" stroke-linejoin="round">
<text transform="translate(72.43,724.90) scale(1.4183,1)" stroke-width="0.60">0</text>
<text transform="translate(282.29,724.90) scale(1.3636,1)" stroke-width="0.60">2</text>
<text transform="translate(492.30,724.90) scale(1.4209,1)" stroke-width="0.60">4</text>
<text transform="translate(701.98,724.90) scale(1.4638,1)" stroke-width="0.60">6</text>
<text transform="translate(912.14,724.90) scale(1.4321,1)" stroke-width="0.60">8</text>
<text transform="translate(1111.93,724.90) scale(1.3468,1)" stroke-width="0.60">1</text>
<text transform="translate(1132.77,724.90) scale(1.4183,1)" stroke-width="0.60">0</text>
<text transform="translate(1321.88,724.90) scale(1.3468,1)" stroke-width="0.60">1</text>
<text transform="translate(1342.63,724.90) scale(1.3636,1)" stroke-width="0.60">2</text>
<text transform="translate(51.27,708.95) scale(1.4183,1)" stroke-width="0.60">0</text>
<text transform="translate(51.61,611.21) scale(1.3468,1)" stroke-width="0.60">1</text>
<text transform="translate(51.18,513.48) scale(1.3636,1)" stroke-width="0.60">2</text>
<text transform="translate(51.67,415.74) scale(1.3613,1)" stroke-width="0.60">3</text>
<text transform="translate(51.24,318.01) scale(1.4209,1)" stroke-width="0.60">4</text>
<text transform="translate(51.66,220.27) scale(1.3384,1)" stroke-width="0.60">5</text>
<text transform="translate(50.97,122.54) scale(1.4638,1)" stroke-width="0.60">6</text>
<text transform="translate(51.41,24.80) scale(1.3989,1)" stroke-width="0.60">7</text>
<text transform="translate(1141.69,53.75) scale(1.3751,1)">M</text>
<text transform="translate(1169.81,53.75) scale(1.2991,1)">I</text>
<text transform="translate(1178.47,53.75) scale(1.4886,1)">T</text>
<text transform="translate(1197.03,53.75) scale(1.3468,1)">-</text>
<text transform="translate(1208.98,53.75) scale(1.2537,1)">S</text>
<text transform="translate(1230.03,53.75) scale(1.4097,1)">L</text>
<text transform="translate(1246.37,53.75) scale(1.4004,1)">y</text>
<text transform="translate(1141.69,87.00) scale(1.3751,1)">M</text>
<text transform="translate(1169.81,87.00) scale(1.2991,1)">I</text>
<text transform="translate(1178.47,87.00) scale(1.4886,1)">T</text>
<text transform="translate(1197.03,87.00) scale(1.3468,1)">-</text>
<text transform="translate(1209.60,87.00) scale(1.1109,1)">F</text>
<text transform="translate(1228.33,87.00) scale(1.2365,1)">P</text>
<text transform="translate(1248.08,87.00) scale(1.2537,1)">S</text>
<text transform="translate(1141.69,120.25) scale(1.3751,1)">M</text>
<text transform="translate(1169.81,120.25) scale(1.2991,1)">I</text>
<text transform="translate(1178.47,120.25) scale(1.4886,1)">T</text>
<text transform="translate(1197.03,120.25) scale(1.3468,1)">-</text>
<text transform="translate(1207.96,120.25) scale(1.3376,1)">B</text>
<text transform="translate(1229.99,120.25) scale(1.2465,1)">S</text>
<text transform="translate(1251.12,120.25) scale(1.4785,1)">k</text>
<text transform="translate(1271.21,120.25) scale(1.3549,1)">1</text>
<text transform="translate(1291.19,120.25) scale(1.5262,1)">9</text>
<text transform="translate(1141.69,153.50) scale(1.3751,1)">M</text>
<text transform="translate(1169.81,153.50) scale(1.2991,1)">I</text>
<text transform="translate(1178.47,153.50) scale(1.4886,1)">T</text>
<text transform="translate(1197.03,153.50) scale(1.3468,1)">-</text>
<text transform="translate(1207.96,153.50) scale(1.3376,1)">B</text>
<text transform="translate(1229.99,153.50) scale(1.2465,1)">S</text>
<text transform="translate(1251.12,153.50) scale(1.4785,1)">k</text>
<text transform="translate(1270.80,153.50) scale(1.3928,1)">2</text>
<text transform="translate(1291.08,153.50) scale(1.5108,1)">0</text>
<text transform="translate(1141.69,186.75) scale(1.3751,1)">M</text>
<text transform="translate(1169.81,186.75) scale(1.2991,1)">I</text>
<text transform="translate(1178.47,186.75) scale(1.4886,1)">T</text>
<text transform="translate(1197.03,186.75) scale(1.3468,1)">-</text>
<text transform="translate(1207.96,186.75) scale(1.3376,1)">B</text>
<text transform="translate(1229.99,186.75) scale(1.2465,1)">S</text>
<text transform="translate(1251.12,186.75) scale(1.4785,1)">k</text>
<text transform="translate(1270.80,186.75) scale(1.3928,1)">2</text>
<text transform="translate(1291.60,186.75) scale(1.3644,1)">1</text>
<text transform="translate(660.95,751.00) scale(1.6773,1)" font-style="italic" stroke-width="0.00">r</text>
<text transform="translate(697.46,751.00) scale(1.3528,1)" stroke-width="0.00">k</text>
<text transform="translate(715.33,751.00) scale(1.7126,1)" stroke-width="0.00">m</text>
<text transform="translate(686.05,749.50) scale(1.0390,0.93)" stroke-width="0.70">(</text>
<text transform="translate(752.32,749.50) scale(1.0390,0.93)" stroke-width="0.70">)</text>
<text transform="translate(35.30,380.60) rotate(-90) scale(1,1.4500)" font-style="italic">ρ</text>
<text transform="translate(35.30,358.90) rotate(-90) scale(1,1.4500)" font-style="italic">ρ</text>
<text transform="translate(40.35,345.20) rotate(-90) scale(1,1.4500)" font-size="17.20">0</text>
<line x1="10.9" y1="360.85" x2="37.8" y2="366.45" stroke-width="1.9"/>
</g>
</svg></body></html>
